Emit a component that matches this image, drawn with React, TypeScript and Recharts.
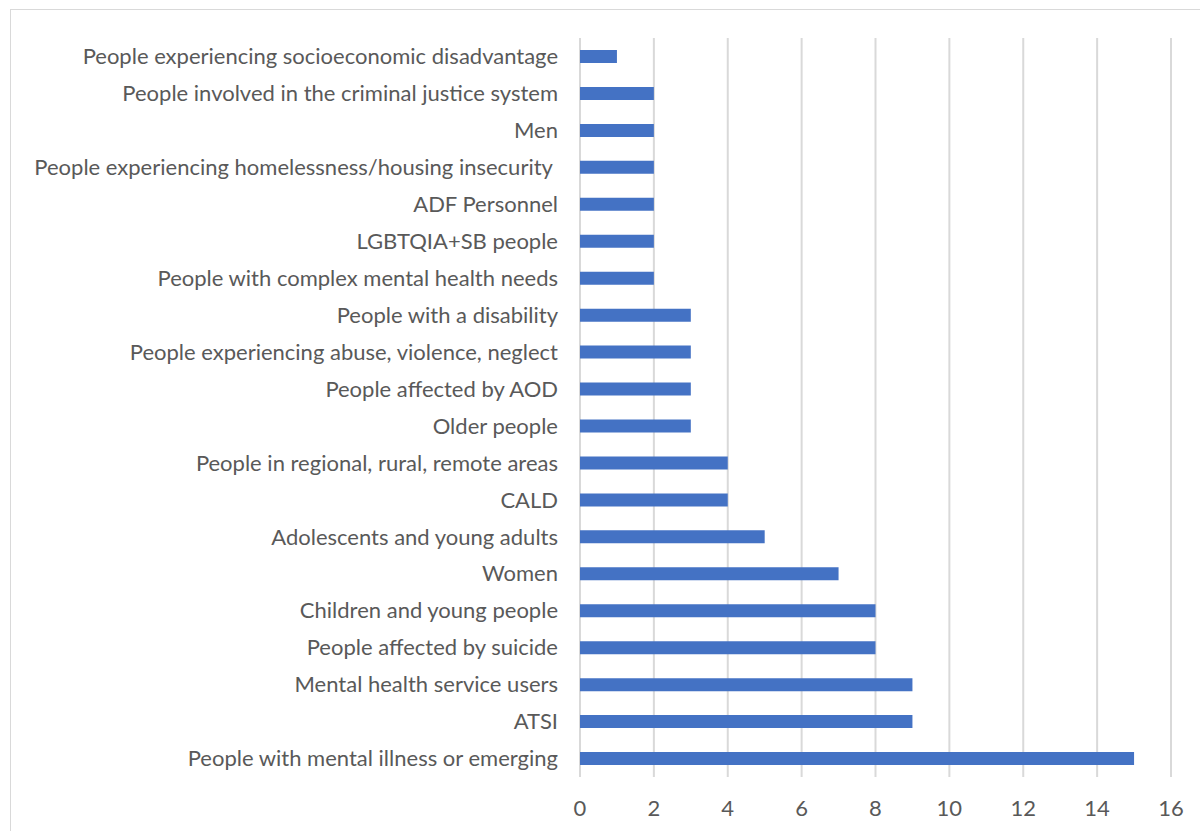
import React from "react";
import { BarChart, Bar, XAxis, YAxis, CartesianGrid } from "recharts";

const categories = [
  "People experiencing socioeconomic disadvantage",
  "People involved in the criminal justice system",
  "Men",
  "People experiencing homelessness/housing insecurity ",
  "ADF Personnel",
  "LGBTQIA+SB people",
  "People with complex mental health needs",
  "People with a disability",
  "People experiencing abuse, violence, neglect",
  "People affected by AOD",
  "Older people",
  "People in regional, rural, remote areas",
  "CALD",
  "Adolescents and young adults",
  "Women",
  "Children and young people",
  "People affected by suicide",
  "Mental health service users",
  "ATSI",
  "People with mental illness or emerging",
];

const counts = [1, 2, 2, 2, 2, 2, 2, 3, 3, 3, 3, 4, 4, 5, 7, 8, 8, 9, 9, 15];

const xTicks = [0, 2, 4, 6, 8, 10, 12, 14, 16];

const data = categories.map((name, i) => ({ name, value: counts[i] }));

const FONT = "Lato, 'Open Sans', sans-serif";
const TEXT = "#595959";

const YTick = (props: any) => {
  const { x, y, payload } = props;
  return (
    <text
      x={x}
      y={y}
      dy="0.35em"
      textAnchor="end"
      fill={TEXT}
      fontSize={22}
      fontFamily={FONT}
      style={{ whiteSpace: "pre" }}
    >
      {payload.value}
    </text>
  );
};

export default function App() {
  return (
    <div style={{ position: "absolute", left: 0, top: 0, width: 1200, height: 831, overflow: "hidden", background: "#fff" }}>
      <div
        style={{
          position: "absolute",
          left: 10,
          top: 9,
          width: 1250,
          height: 900,
          border: "1px solid #D9D9D9",
          boxSizing: "border-box",
        }}
      />
      <div style={{ position: "absolute", left: 0, top: 0 }}>
        <BarChart
          width={1200}
          height={831}
          data={data}
          layout="vertical"
          margin={{ top: 38, right: 29, bottom: 24, left: 0 }}
          barSize={13}
        >
          <CartesianGrid horizontal={false} vertical={true} stroke="#D9D9D9" strokeWidth={2} />
          <XAxis
            type="number"
            domain={[0, 16]}
            ticks={xTicks}
            interval={0}
            axisLine={false}
            tickLine={false}
            tickSize={0}
            tickMargin={23}
            height={30}
            tick={{ fill: TEXT, fontSize: 22, fontFamily: FONT }}
          />
          <YAxis
            type="category"
            dataKey="name"
            width={580}
            axisLine={false}
            tickLine={false}
            tickSize={0}
            tickMargin={22}
            interval={0}
            tick={<YTick />}
          />
          <Bar dataKey="value" fill="#4472C4" isAnimationActive={false} />
        </BarChart>
      </div>
    </div>
  );
}
